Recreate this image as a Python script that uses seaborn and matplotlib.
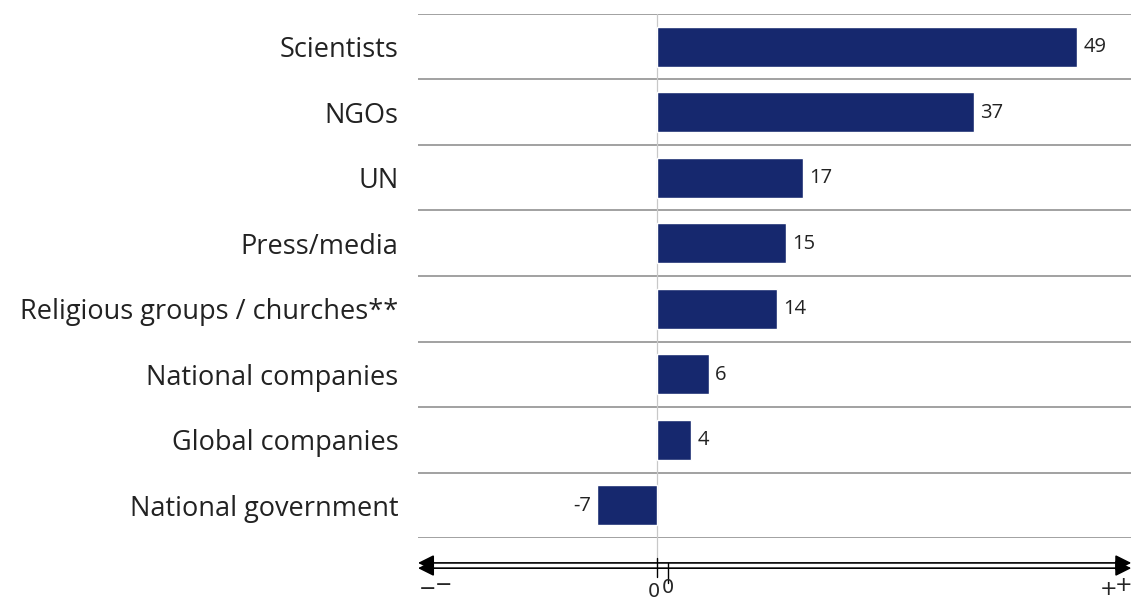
import matplotlib.pyplot as plt
import seaborn as sns
import pandas as pd

categories = ["Scientists", "NGOs", "UN", "Press/media",
              "Religious groups / churches**", "National companies",
              "Global companies", "National government"]
values = [49, 37, 17, 15, 14, 6, 4, -7]

NAVY = "#16286e"
GRID = "#9a9a9a"

sns.set_theme(style="white")
plt.rcParams["font.family"] = ["Open Sans", "DejaVu Sans"]

df = pd.DataFrame({"group": categories, "value": values})

fig = plt.figure(figsize=(11.34, 6), dpi=100)
ax = fig.add_axes([0.3686, 0.1033, 0.629, 0.8734])

sns.barplot(data=df, y="group", x="value", orient="h", color=NAVY,
            saturation=1, width=0.61, ax=ax)

ax.set_xlim(-27.9, 55.3)
ax.set_ylim(len(categories) - 0.5, -0.5)

# row separators
for k in range(len(categories) + 1):
    ax.axhline(k - 0.5, color=GRID, lw=1.3, zorder=0)

# zero line running down to the arrow
ax.plot([0, 0], [-0.5, 7.85], color="#c8c8c8", lw=0.9, zorder=0, clip_on=False)

for i, v in enumerate(values):
    if v >= 0:
        ax.text(v + 0.7, i + 0.01, str(v), va="center", ha="left", fontsize=14.5, color="#222222")
    else:
        ax.text(v - 0.7, i + 0.01, str(v), va="center", ha="right", fontsize=14.5, color="#222222")

ax.set_xlabel("")
ax.set_ylabel("")
ax.set_xticks([])
ax.tick_params(axis="y", length=0, pad=14, labelsize=19.5, labelcolor="#222222")
for s in ax.spines.values():
    s.set_visible(False)

# double-headed arrow scale at the bottom (doubled, like the original)
for dy, x0 in [(0.0, 0.0), (0.08, 1.3)]:
    ax.annotate("", xy=(55.3, 7.88 + dy), xytext=(-27.9, 7.88 + dy),
                xycoords="data", annotation_clip=False,
                arrowprops=dict(arrowstyle="<|-|>", color="black", lw=1.2,
                                mutation_scale=24, shrinkA=0, shrinkB=0))
    ax.plot([x0, x0], [7.8 + dy, 8.1 + dy], color="black", lw=1, clip_on=False)

ax.text(-27.8, 8.28, "−", fontsize=15, ha="left", va="center", family="DejaVu Sans")
ax.text(-25.9, 8.22, "−", fontsize=15, ha="left", va="center", family="DejaVu Sans")
ax.text(-0.4, 8.32, "0", fontsize=14, ha="center", va="center", family="DejaVu Sans")
ax.text(1.2, 8.26, "0", fontsize=14, ha="center", va="center", family="DejaVu Sans")
ax.text(52.6, 8.28, "+", fontsize=15, ha="center", va="center", family="DejaVu Sans")
ax.text(54.4, 8.22, "+", fontsize=15, ha="center", va="center", family="DejaVu Sans")

fig.savefig("out.png", dpi=100)
